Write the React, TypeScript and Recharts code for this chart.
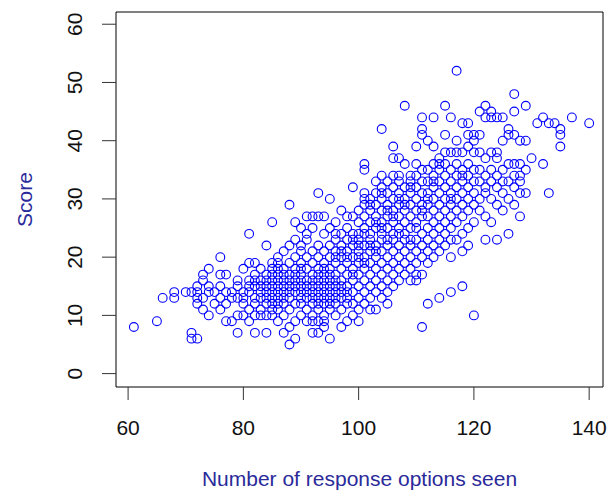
import React from 'react';
import { ScatterChart, Scatter, XAxis, YAxis, ReferenceArea, Label } from 'recharts';

// score columns: [options seen, scores observed at that count]
const cols60s70s: [number, number[]][] = [
  [61, [8]],
  [65, [9]],
  [66, [13]],
  [68, [13, 14]],
  [70, [14]],
  [71, [6, 7, 14]],
  [72, [6, 12, 13, 14, 15]],
  [73, [11, 13, 16, 17]],
  [74, [10, 14, 15, 18]],
  [75, [12, 14]],
  [76, [11, 13, 15, 17, 20]],
  [77, [9, 12, 14, 17]],
  [78, [9, 13, 14]],
  [79, [7, 10, 13, 15, 16]],
];

const cols80s: [number, number[]][] = [
  [80, [10, 12, 13, 14, 18]],
  [81, [9, 11, 14, 15, 16, 19, 24]],
  [82, [7, 10, 12, 13, 15, 16, 17, 19]],
  [83, [10, 11, 13, 14, 15, 16, 18]],
  [84, [7, 10, 12, 13, 14, 15, 16, 17, 22]],
  [85, [10, 11, 12, 13, 14, 15, 16, 17, 18, 19, 26]],
  [86, [9, 11, 12, 13, 14, 15, 16, 17, 18, 19, 20]],
  [87, [7, 10, 12, 13, 14, 15, 16, 17, 18, 21]],
  [88, [5, 8, 11, 13, 14, 15, 16, 17, 19, 22, 29]],
  [89, [6, 9, 12, 14, 15, 16, 17, 18, 20, 23, 26]],
];

const cols90s: [number, number[]][] = [
  [90, [10, 12, 13, 14, 15, 16, 17, 18, 19, 21, 22, 25]],
  [91, [9, 11, 13, 14, 15, 16, 18, 20, 23, 24, 27]],
  [92, [7, 9, 10, 12, 13, 14, 15, 16, 17, 19, 21, 25, 27]],
  [93, [7, 9, 11, 12, 13, 14, 15, 16, 17, 18, 20, 22, 27, 31]],
  [94, [8, 9, 10, 12, 13, 14, 15, 16, 17, 18, 19, 21, 24, 27]],
  [95, [6, 11, 12, 13, 14, 15, 16, 17, 18, 20, 22, 25, 30]],
  [96, [10, 12, 13, 14, 15, 16, 17, 19, 20, 21, 23, 24, 26]],
  [97, [8, 11, 13, 14, 15, 16, 18, 20, 21, 22, 24, 28]],
  [98, [9, 12, 13, 14, 15, 17, 19, 20, 21, 23, 25, 27]],
  [99, [10, 12, 14, 16, 17, 18, 20, 22, 23, 24, 27, 32]],
];

const cols100s: [number, number[]][] = [
  [100, [9, 11, 13, 15, 17, 19, 20, 21, 22, 23, 24, 26, 28]],
  [101, [12, 14, 16, 18, 19, 20, 22, 24, 25, 27, 29, 30, 31, 35, 36]],
  [102, [11, 13, 15, 17, 19, 21, 22, 23, 24, 26, 28, 29, 30]],
  [103, [11, 14, 16, 18, 20, 21, 22, 25, 26, 27, 29, 31, 33]],
  [104, [13, 15, 17, 19, 21, 23, 24, 25, 26, 28, 30, 31, 32, 34, 42]],
  [105, [12, 14, 16, 18, 20, 22, 23, 25, 27, 28, 29, 31, 33]],
  [106, [15, 17, 19, 21, 23, 24, 26, 27, 28, 30, 32, 34, 37, 39]],
  [107, [16, 18, 20, 22, 24, 25, 27, 29, 30, 31, 33, 34, 37]],
  [108, [17, 19, 21, 23, 24, 26, 28, 29, 30, 32, 36, 46]],
  [109, [16, 18, 20, 22, 23, 25, 27, 29, 31, 32, 33, 34]],
];

const cols110s: [number, number[]][] = [
  [110, [16, 17, 19, 21, 23, 25, 26, 28, 30, 32, 34, 36, 39]],
  [111, [8, 17, 20, 22, 24, 27, 28, 29, 31, 33, 35, 41, 42, 44]],
  [112, [12, 19, 21, 23, 25, 27, 29, 30, 31, 33, 35, 40]],
  [113, [20, 22, 24, 26, 28, 30, 32, 33, 34, 36, 39, 44]],
  [114, [13, 21, 23, 25, 27, 29, 31, 33, 35, 36, 37]],
  [115, [22, 24, 26, 28, 30, 32, 34, 36, 38, 41, 46]],
  [116, [14, 20, 23, 25, 27, 29, 30, 31, 33, 35, 38, 44]],
  [117, [23, 26, 28, 30, 32, 34, 36, 38, 40, 52]],
  [118, [15, 21, 24, 27, 29, 31, 33, 34, 35, 38, 43]],
  [119, [22, 25, 28, 30, 32, 34, 36, 39, 41, 43]],
];

const cols120sUp: [number, number[]][] = [
  [120, [10, 26, 29, 31, 33, 35, 38, 40, 41]],
  [121, [28, 30, 33, 35, 38, 41, 45]],
  [122, [23, 27, 31, 32, 34, 37, 44, 46]],
  [123, [26, 30, 33, 35, 38, 44, 45]],
  [124, [23, 29, 32, 34, 37, 38, 44]],
  [125, [28, 31, 33, 35, 40, 44]],
  [126, [24, 30, 33, 36, 41, 42]],
  [127, [29, 32, 34, 36, 41, 45, 48]],
  [128, [27, 31, 33, 34, 36, 40]],
  [129, [31, 35, 40, 46]],
  [130, [37]],
  [131, [43]],
  [132, [36, 44]],
  [133, [31, 43]],
  [134, [43]],
  [135, [39, 41, 42]],
  [137, [44]],
  [140, [43]],
];

const xTicks = [60, 80, 100, 120, 140];
const yTicks = [0, 10, 20, 30, 40, 50, 60];
const xDomain: [number, number] = [57.9, 142.4];
const yDomain: [number, number] = [-2.3, 62.1];

const points = [...cols60s70s, ...cols80s, ...cols90s, ...cols100s, ...cols110s, ...cols120sUp].flatMap(
  ([x, ys]) => ys.map((y) => ({ x, y }))
);

const FONT = '"Liberation Sans", Arial, sans-serif';

const Ring = (props: any) => (
  <circle cx={props.cx} cy={props.cy} r={4.4} fill="none" stroke="#0000ff" strokeWidth={1.1} />
);

const XTick = (props: any) => (
  <text x={props.x} y={props.y + 33} textAnchor="middle" fontFamily={FONT} fontSize={21} fill="#111">
    {props.payload.value}
  </text>
);

const YTick = (props: any) => {
  const bx = props.x - 18;
  return (
    <text x={bx} y={props.y} transform={`rotate(-90, ${bx}, ${props.y})`} textAnchor="middle"
      fontFamily={FONT} fontSize={21} fill="#111">
      {props.payload.value}
    </text>
  );
};

export default function App() {
  return (
    <div style={{ position: 'absolute', left: 0, top: 0, background: '#fff' }}>
      <ScatterChart width={610} height={493} margin={{ top: 12, right: 7, bottom: 0, left: 0 }}>
        <XAxis type="number" dataKey="x" domain={xDomain} ticks={xTicks} interval={0}
          allowDataOverflow height={106} axisLine={false} tickSize={13}
          tickLine={{ stroke: '#333', strokeWidth: 1 }} tick={<XTick />}>
          <Label content={(p: any) => (
            <text x={p.viewBox.x + p.viewBox.width / 2} y={p.viewBox.y + 99} textAnchor="middle"
              fontFamily={FONT} fontSize={21} fill="#2a2a9a">
              Number of response options seen
            </text>
          )} />
        </XAxis>
        <YAxis type="number" dataKey="y" domain={yDomain} ticks={yTicks} interval={0}
          allowDataOverflow width={116} axisLine={false} tickSize={14}
          tickLine={{ stroke: '#333', strokeWidth: 1 }} tick={<YTick />}>
          <Label content={(p: any) => {
            const cy = p.viewBox.y + p.viewBox.height / 2;
            return (
              <text x={32} y={cy} transform={`rotate(-90, 32, ${cy})`} textAnchor="middle"
                fontFamily={FONT} fontSize={21} fill="#2a2a9a">
                Score
              </text>
            );
          }} />
        </YAxis>
        <Scatter data={points} shape={<Ring />} isAnimationActive={false} />
        <ReferenceArea x1={xDomain[0]} x2={xDomain[1]} y1={yDomain[0]} y2={yDomain[1]}
          fill="none" stroke="#000" strokeWidth={1} ifOverflow="visible" />
      </ScatterChart>
    </div>
  );
}
